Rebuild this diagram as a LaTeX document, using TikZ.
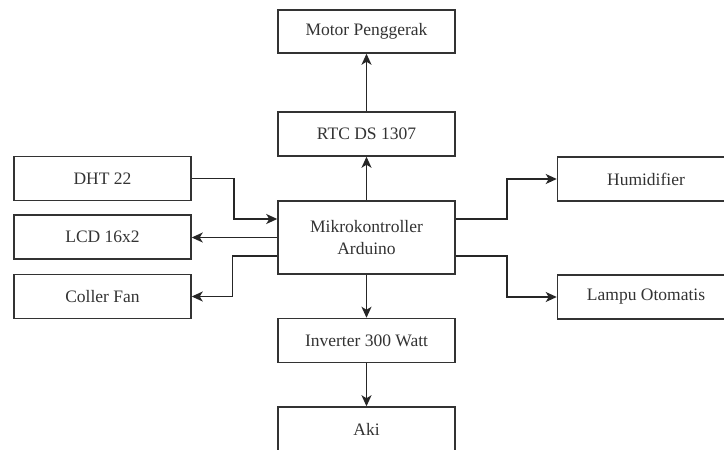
\documentclass[tikz,border=0pt]{standalone}
\usepackage{fontspec}
\setmainfont{Liberation Serif}
\usetikzlibrary{arrows.meta}

\tikzset{
  blok/.style={draw=black!80, line width=1.5pt, minimum width=177pt, minimum height=44pt,
    inner sep=0pt, align=center, font=\fontsize{17.5}{22}\selectfont, text=black!80},
  panah/.style={draw=black!85, line width=1.5pt, -{Stealth[length=11pt,width=10pt,inset=3pt]}}
}

\begin{document}
\begin{tikzpicture}[x=1pt,y=-1pt]
            \useasboundingbox (0,0) rectangle (724,450);
            \clip (0,0) rectangle (724,450);
            \fill[white] (0,0) rectangle (724,450);
            % kolom tengah
            \node[blok, minimum height=43pt] (motor) at (366.5,31.5) {Motor Penggerak};
            \node[blok] (rtc) at (366.5,134) {RTC DS 1307};
            \node[blok, minimum height=73pt] (mikro) at (366.5,237.5) {Mikrokontroller\\Arduino};
            \node[blok] (inverter) at (366.5,340.5) {Inverter 300 Watt};
            \node[blok] (aki) at (366.5,429) {Aki};
            % kiri
            \node[blok] (dht) at (102.5,178.5) {DHT 22};
            \node[blok] (lcd) at (102.5,237) {LCD 16x2};
            \node[blok] (fan) at (102.5,296.5) {Coller Fan};
            % kanan
            \node[blok] (humid) at (646,179) {Humidifier};
            \node[blok] (lampu) at (646,297) {Lampu Otomatis};
            % panah
            \draw[panah] (mikro.north) -- (rtc.south);
            \draw[panah] (rtc.north) -- (motor.south);
            \draw[panah] (mikro.south) -- (inverter.north);
            \draw[panah] (inverter.south) -- (aki.north);
            \draw[panah] (dht.east) -- ++(42,0) |- ([yshift=18.5pt]mikro.west);
            \draw[panah] (mikro.west) -- (mikro.west -| lcd.east);
            \draw[panah] ([yshift=-18.5pt]mikro.west) -- ++(-45,0) |- (fan.east);
            \draw[panah] ([yshift=18.5pt]mikro.east) -- ++(51,0) |- (humid.west);
            \draw[panah] ([yshift=-18.5pt]mikro.east) -- ++(51,0) |- (lampu.west);
        \end{tikzpicture}
\end{document}
